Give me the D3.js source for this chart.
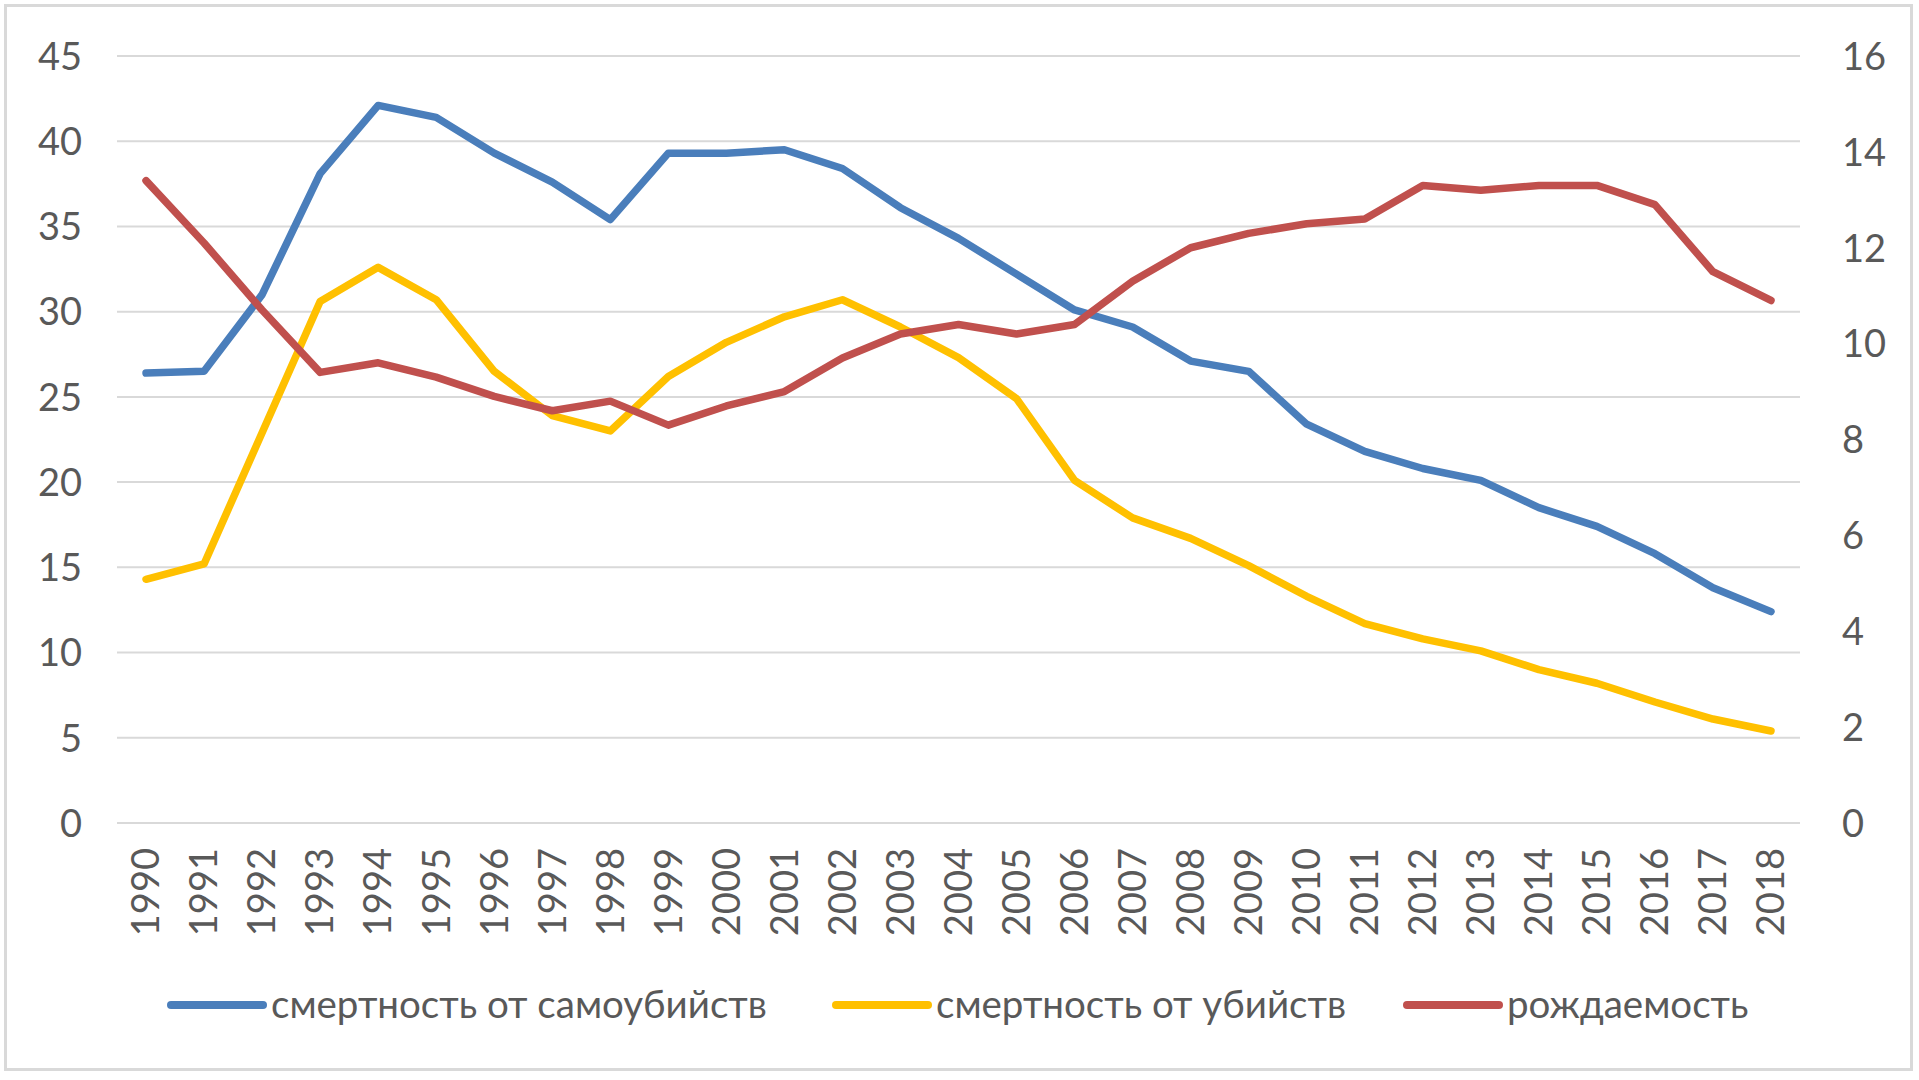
<!DOCTYPE html>
<html>
<head>
<meta charset="utf-8">
<script src="https://cdn.jsdelivr.net/npm/d3@7"></script>
<style>
  html, body { margin: 0; padding: 0; background: #fff; }
  svg { display: block; }
  text { font-family: Lato, "Noto Sans", sans-serif; fill: #595959; }
</style>
</head>
<body>
<svg id="chart" width="1919" height="1080"></svg>
<script>
const years = [1990,1991,1992,1993,1994,1995,1996,1997,1998,1999,2000,2001,2002,2003,2004,2005,2006,2007,2008,2009,2010,2011,2012,2013,2014,2015,2016,2017,2018];
const suicide = [26.4,26.5,31.0,38.1,42.1,41.4,39.3,37.6,35.4,39.3,39.3,39.5,38.4,36.1,34.3,32.2,30.1,29.1,27.1,26.5,23.4,21.8,20.8,20.1,18.5,17.4,15.8,13.8,12.4];
const homicide = [14.3,15.2,22.9,30.6,32.6,30.7,26.5,23.9,23.0,26.2,28.2,29.7,30.7,29.1,27.3,24.9,20.1,17.9,16.7,15.1,13.3,11.7,10.8,10.1,9.0,8.2,7.1,6.1,5.4];
const birthRate = [13.4,12.1,10.7,9.4,9.6,9.3,8.9,8.6,8.8,8.3,8.7,9.0,9.7,10.2,10.4,10.2,10.4,11.3,12.0,12.3,12.5,12.6,13.3,13.2,13.3,13.3,12.9,11.5,10.9];
const leftTicks = [0,5,10,15,20,25,30,35,40,45];
const rightTicks = [0,2,4,6,8,10,12,14,16];
const seriesNames = ["смертность от самоубийств", "смертность от убийств", "рождаемость"];
const seriesColors = ["#4A7EBB", "#FFC000", "#C0504D"];

const svg = d3.select("#chart");

// outer frame
svg.append("rect").attr("x", 5.5).attr("y", 5.5).attr("width", 1906).attr("height", 1064)
  .attr("fill", "#fff").attr("stroke", "#D9D9D9").attr("stroke-width", 3);

const plot = {left: 117, right: 1800, top: 56, bottom: 823};
const x = d3.scaleBand().domain(years).range([plot.left, plot.right]);
const yL = d3.scaleLinear().domain([0, 45]).range([plot.bottom, plot.top]);
const yR = d3.scaleLinear().domain([0, 16]).range([plot.bottom, plot.top]);

// gridlines
svg.append("g").selectAll("line").data(leftTicks).join("line")
  .attr("x1", plot.left).attr("x2", plot.right)
  .attr("y1", d => yL(d)).attr("y2", d => yL(d))
  .attr("stroke", "#D9D9D9").attr("stroke-width", 2);

// left axis
const gL = svg.append("g").attr("transform", `translate(${plot.left},0)`)
  .call(d3.axisLeft(yL).tickValues(leftTicks).tickSize(0).tickPadding(35));
gL.select(".domain").remove();
gL.selectAll("text").attr("font-size", 38).style("fill", "#595959").attr("dy", "0.35em")
  .style("font-family", "Lato, 'Noto Sans', sans-serif");

// right axis
const gR = svg.append("g").attr("transform", `translate(${plot.right},0)`)
  .call(d3.axisRight(yR).tickValues(rightTicks).tickSize(0).tickPadding(42));
gR.select(".domain").remove();
gR.selectAll("text").attr("font-size", 38).style("fill", "#595959").attr("dy", "0.35em")
  .style("font-family", "Lato, 'Noto Sans', sans-serif");

// x axis labels
const gX = svg.append("g").attr("transform", `translate(0,${plot.bottom})`)
  .call(d3.axisBottom(x).tickSize(0).tickPadding(0));
gX.select(".domain").remove();
gX.selectAll("text")
  .attr("font-size", 38)
  .style("fill", "#595959")
  .style("font-family", "Lato, 'Noto Sans', sans-serif")
  .attr("text-anchor", "end")
  .attr("transform", "translate(0,25) rotate(-90)")
  .attr("x", 0).attr("y", 0).attr("dy", "0.35em");

// lines
const cx = d => x(d) + x.bandwidth() / 2;
const lineL = d3.line().x((d, i) => cx(years[i])).y(d => yL(d));
const lineR = d3.line().x((d, i) => cx(years[i])).y(d => yR(d));

svg.append("path").datum(suicide).attr("d", lineL)
  .attr("fill", "none").attr("stroke", seriesColors[0]).attr("stroke-width", 7.5)
  .attr("stroke-linejoin", "round").attr("stroke-linecap", "round");
svg.append("path").datum(homicide).attr("d", lineL)
  .attr("fill", "none").attr("stroke", seriesColors[1]).attr("stroke-width", 7.5)
  .attr("stroke-linejoin", "round").attr("stroke-linecap", "round");
svg.append("path").datum(birthRate).attr("d", lineR)
  .attr("fill", "none").attr("stroke", seriesColors[2]).attr("stroke-width", 7.5)
  .attr("stroke-linejoin", "round").attr("stroke-linecap", "round");

// legend
const legendX = [171, 836, 1407];
const legY = 1005;
const lg = svg.append("g");
seriesNames.forEach((name, i) => {
  lg.append("line").attr("x1", legendX[i]).attr("x2", legendX[i] + 92)
    .attr("y1", legY).attr("y2", legY)
    .attr("stroke", seriesColors[i]).attr("stroke-width", 8).attr("stroke-linecap", "round");
  lg.append("text").attr("x", legendX[i] + 100).attr("y", legY).attr("dy", "0.35em")
    .attr("font-size", 38.5).text(name);
});
</script>
</body>
</html>
